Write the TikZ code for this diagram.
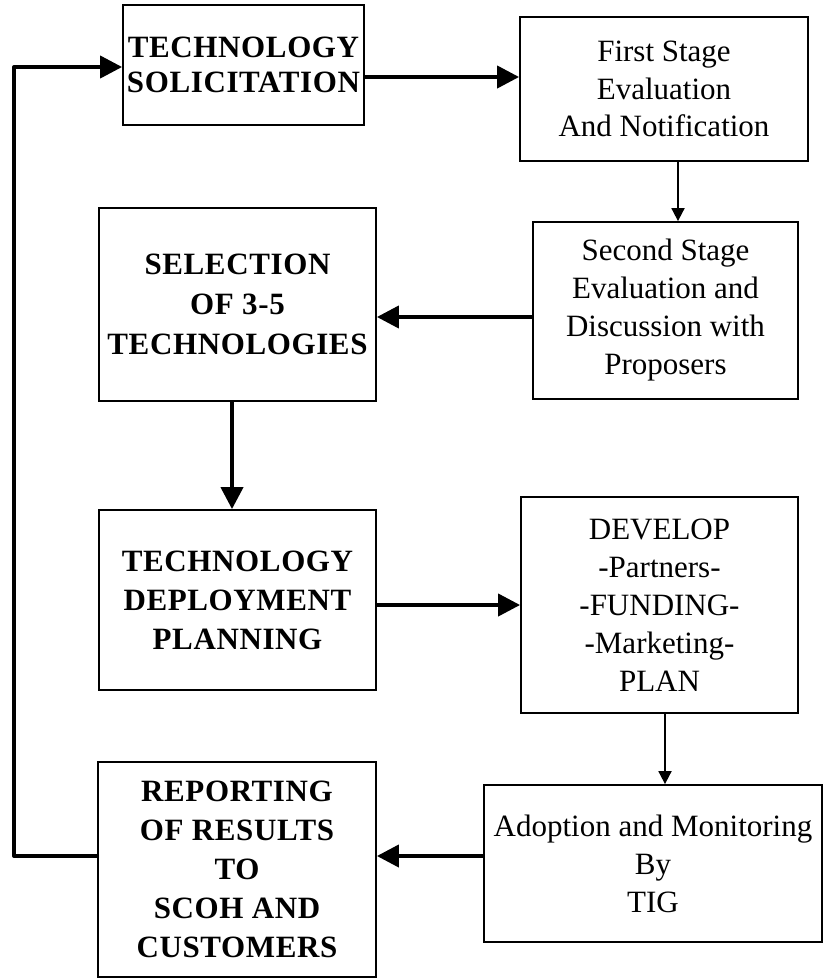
\documentclass[tikz,border=0pt]{standalone}
\usepackage{fontspec}
\setmainfont{Liberation Serif}
\usetikzlibrary{arrows.meta}
\newfontfamily\boldspaced[LetterSpace=2]{Liberation Serif}
\tikzset{
  box/.style={draw, line width=1.8pt, inner sep=0pt, align=center, rectangle},
  boldtxt/.style={font=\boldspaced\fontsize{31}{39}\selectfont\bfseries},
  regtxt/.style={font=\fontsize{31}{38}\selectfont},
  thickarrow/.style={line width=4pt, -{Triangle[length=22pt,width=22pt]}},
  thinarrow/.style={line width=1.8pt, -{Triangle[length=13pt,width=13pt]}},
  thickline/.style={line width=4pt, line cap=round, line join=round},
}
\begin{document}
\begin{tikzpicture}[x=1pt,y=-1pt]
\useasboundingbox (0,0) rectangle (824,978);
\fill[white] (0,0) rectangle (824,978);
% boxes
\node[box, minimum width=241pt, minimum height=120pt, font=\boldspaced\fontsize{31}{35}\selectfont\bfseries] (b1) at (243.5,65) {TECHNOLOGY\\SOLICITATION};
\node[box, regtxt, minimum width=288pt, minimum height=144pt, font=\fontsize{31}{37.5}\selectfont] (b2) at (664,89) {First Stage\\Evaluation\\And Notification};
\node[box, regtxt, minimum width=265pt, minimum height=177pt] (b3) at (665.5,310.5) {Second Stage\\Evaluation and\\Discussion with\\Proposers};
\node[box, minimum width=277pt, minimum height=193pt, font=\boldspaced\fontsize{31}{40}\selectfont\bfseries] (b4) at (237.5,304.5) {SELECTION\\OF 3-5\\TECHNOLOGIES};
\node[box, boldtxt, minimum width=277pt, minimum height=180pt] (b5) at (237.5,600) {TECHNOLOGY\\DEPLOYMENT\\PLANNING};
\node[box, regtxt, minimum width=277pt, minimum height=216pt] (b6) at (659.5,605) {DEVELOP\\-Partners-\\-FUNDING-\\-Marketing-\\PLAN};
\node[box, regtxt, minimum width=338pt, minimum height=157pt] (b7) at (653,863.5) {Adoption and Monitoring\\By\\TIG};
\node[box, boldtxt, minimum width=278pt, minimum height=215pt] (b8) at (237,869.5) {REPORTING\\OF RESULTS\\TO\\SCOH AND\\CUSTOMERS};
% helper coordinates
\coordinate (y12) at (0,77);
\coordinate (x23) at (678,0);
\coordinate (y34) at (0,317);
\coordinate (x45) at (232,0);
\coordinate (y56) at (0,605);
\coordinate (x67) at (665,0);
\coordinate (y78) at (0,856);
\coordinate (lc) at (14,67);
% connectors
\draw[thickarrow] (b1.east |- y12) -- (b2.west |- y12);
\draw[thinarrow] (b2.south -| x23) -- (b3.north -| x23);
\draw[thickarrow] (b3.west |- y34) -- (b4.east |- y34);
\draw[thickarrow] (b4.south -| x45) -- (b5.north -| x45);
\draw[thickarrow] (b5.east |- y56) -- (b6.west |- y56);
\draw[thinarrow] (b6.south -| x67) -- (b7.north -| x67);
\draw[thickarrow] (b7.west |- y78) -- (b8.east |- y78);
\draw[thickline] (b8.west |- y78) -| (lc);
\draw[thickarrow] (lc) -- (b1.west |- lc);
\end{tikzpicture}
\end{document}
